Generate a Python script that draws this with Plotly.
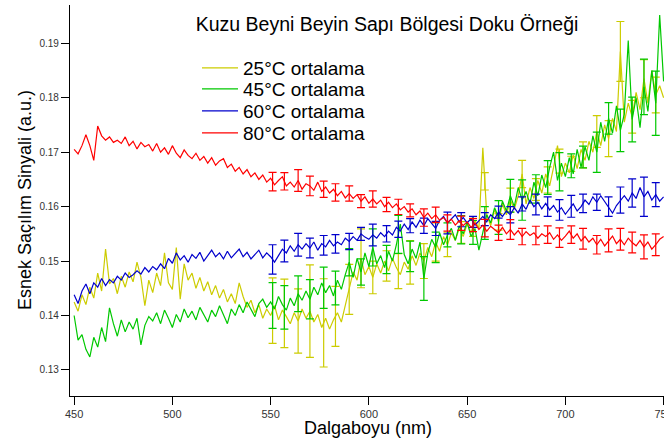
import numpy as np
import plotly.graph_objects as go

wavelengths = list(range(450, 751, 2))

yellow_25 = [
    0.1425, 0.1408, 0.1438, 0.1420, 0.1452, 0.1432, 0.1478, 0.1445, 0.1522, 0.1458,
    0.1468, 0.1440, 0.1472, 0.1452, 0.1480, 0.1462, 0.1498, 0.1470, 0.1418, 0.1465,
    0.1442, 0.1478, 0.1455, 0.1515, 0.1460, 0.1448, 0.1525, 0.1430, 0.1495, 0.1465,
    0.1478, 0.1450, 0.1470, 0.1445, 0.1462, 0.1438, 0.1455, 0.1432, 0.1448, 0.1425,
    0.1440, 0.1422, 0.1460, 0.1435, 0.1415, 0.1428, 0.1405, 0.1420, 0.1395, 0.1412,
    0.1400, 0.1418, 0.1392, 0.1410, 0.1398, 0.1385, 0.1405, 0.1390, 0.1412, 0.1395,
    0.1408, 0.1388, 0.1402, 0.1378, 0.1395, 0.1375, 0.1392, 0.1405, 0.1388, 0.1420,
    0.1448, 0.1480, 0.1465, 0.1505, 0.1475, 0.1490, 0.1470, 0.1495, 0.1478, 0.1500,
    0.1482, 0.1505, 0.1488, 0.1475, 0.1498, 0.1485, 0.1510, 0.1492, 0.1515, 0.1500,
    0.1525, 0.1508, 0.1535, 0.1518, 0.1545, 0.1530, 0.1552, 0.1538, 0.1560, 0.1545,
    0.1568, 0.1552, 0.1575, 0.1560, 0.1708, 0.1585, 0.1565, 0.1595, 0.1572, 0.1605,
    0.1585, 0.1612, 0.1595, 0.1620, 0.1660, 0.1605, 0.1635, 0.1615, 0.1648, 0.1625,
    0.1660, 0.1638, 0.1672, 0.1712, 0.1655, 0.1680, 0.1662, 0.1695, 0.1670, 0.1705,
    0.1685, 0.1720, 0.1700, 0.1738, 0.1712, 0.1750, 0.1725, 0.1762, 0.1738, 0.1885,
    0.1755, 0.1790, 0.1765, 0.1810, 0.1778, 0.1835, 0.1790, 0.1850, 0.1805, 0.1822,
    0.1800,
]

green_45 = [
    0.1400, 0.1355, 0.1365, 0.1338, 0.1324, 0.1360, 0.1342, 0.1378, 0.1352, 0.1414,
    0.1385, 0.1362, 0.1392, 0.1370, 0.1388, 0.1375, 0.1395, 0.1346, 0.1382, 0.1398,
    0.1390, 0.1405, 0.1385, 0.1410, 0.1395, 0.1378, 0.1402, 0.1388, 0.1412, 0.1396,
    0.1408, 0.1392, 0.1415, 0.1400, 0.1388, 0.1410, 0.1398, 0.1418, 0.1402, 0.1385,
    0.1412, 0.1400, 0.1420, 0.1405, 0.1425, 0.1410, 0.1398, 0.1422, 0.1430, 0.1415,
    0.1425, 0.1412, 0.1435, 0.1420, 0.1410, 0.1432, 0.1418, 0.1440, 0.1428, 0.1445,
    0.1430, 0.1452, 0.1438, 0.1460, 0.1442, 0.1455, 0.1436, 0.1465, 0.1448, 0.1475,
    0.1498, 0.1470, 0.1505, 0.1480, 0.1515, 0.1490, 0.1525, 0.1495, 0.1510, 0.1488,
    0.1518, 0.1500, 0.1530, 0.1568, 0.1512, 0.1495, 0.1522, 0.1505, 0.1535, 0.1468,
    0.1515, 0.1540, 0.1525, 0.1552, 0.1530, 0.1548, 0.1560, 0.1538, 0.1565, 0.1550,
    0.1572, 0.1545, 0.1560, 0.1520, 0.1555, 0.1585, 0.1570, 0.1598, 0.1580, 0.1610,
    0.1592, 0.1620, 0.1600, 0.1635, 0.1612, 0.1628, 0.1605, 0.1645, 0.1620, 0.1658,
    0.1635, 0.1672, 0.1700, 0.1648, 0.1680, 0.1655, 0.1690, 0.1660, 0.1705, 0.1672,
    0.1710, 0.1685, 0.1730, 0.1700, 0.1755, 0.1720, 0.1762, 0.1735, 0.1785, 0.1740,
    0.1770, 0.1905, 0.1760, 0.1800, 0.1745, 0.1820, 0.1775, 0.1850, 0.1790, 0.1952,
    0.1830,
]

blue_60 = [
    0.1438, 0.1422, 0.1445, 0.1458, 0.1440, 0.1460, 0.1452, 0.1468, 0.1455, 0.1466,
    0.1460, 0.1472, 0.1465, 0.1478, 0.1470, 0.1475, 0.1482, 0.1476, 0.1488, 0.1480,
    0.1490, 0.1484, 0.1495, 0.1486, 0.1505, 0.1496, 0.1515, 0.1502, 0.1510, 0.1498,
    0.1512, 0.1505, 0.1516, 0.1500, 0.1510, 0.1520, 0.1508, 0.1515, 0.1504, 0.1518,
    0.1506, 0.1514, 0.1522, 0.1508, 0.1516, 0.1504, 0.1512, 0.1520, 0.1506, 0.1515,
    0.1508, 0.1498, 0.1510, 0.1522, 0.1515, 0.1528, 0.1518, 0.1530, 0.1522, 0.1532,
    0.1524, 0.1535, 0.1520, 0.1532, 0.1526, 0.1538, 0.1528, 0.1535, 0.1530, 0.1542,
    0.1536, 0.1545, 0.1538, 0.1550, 0.1544, 0.1540, 0.1548, 0.1542, 0.1552, 0.1545,
    0.1555, 0.1548, 0.1562, 0.1555, 0.1568, 0.1558, 0.1572, 0.1562, 0.1575, 0.1565,
    0.1578, 0.1568, 0.1560, 0.1575, 0.1582, 0.1570, 0.1578, 0.1585, 0.1572, 0.1580,
    0.1570, 0.1578, 0.1566, 0.1575, 0.1582, 0.1572, 0.1585, 0.1578, 0.1590, 0.1582,
    0.1592, 0.1585, 0.1598, 0.1588, 0.1605, 0.1595, 0.1612, 0.1600, 0.1608, 0.1596,
    0.1606, 0.1594, 0.1602, 0.1590, 0.1598, 0.1586, 0.1596, 0.1605, 0.1592, 0.1600,
    0.1612, 0.1604, 0.1618, 0.1608, 0.1620, 0.1610, 0.1600, 0.1588, 0.1602, 0.1612,
    0.1620, 0.1610, 0.1625, 0.1615, 0.1635, 0.1618, 0.1628, 0.1612, 0.1622, 0.1610,
    0.1618,
]

red_80 = [
    0.1705, 0.1697, 0.1712, 0.1732, 0.1712, 0.1685, 0.1748, 0.1730, 0.1722, 0.1728,
    0.1718, 0.1722, 0.1716, 0.1728, 0.1712, 0.1720, 0.1706, 0.1718, 0.1710, 0.1714,
    0.1702, 0.1716, 0.1700, 0.1708, 0.1696, 0.1712, 0.1698, 0.1690, 0.1704, 0.1694,
    0.1688, 0.1698, 0.1685, 0.1692, 0.1680, 0.1690, 0.1676, 0.1684, 0.1688, 0.1672,
    0.1678, 0.1665, 0.1672, 0.1660, 0.1668, 0.1655, 0.1662, 0.1650, 0.1658, 0.1645,
    0.1652, 0.1640, 0.1648, 0.1655, 0.1638, 0.1645, 0.1636, 0.1648, 0.1632, 0.1642,
    0.1638, 0.1630, 0.1645, 0.1628, 0.1636, 0.1625, 0.1632, 0.1620, 0.1628, 0.1616,
    0.1624, 0.1615, 0.1622, 0.1610, 0.1618, 0.1606, 0.1614, 0.1605, 0.1612, 0.1600,
    0.1608, 0.1598, 0.1605, 0.1594, 0.1600, 0.1590, 0.1596, 0.1585, 0.1592, 0.1580,
    0.1588, 0.1578, 0.1585, 0.1575, 0.1580, 0.1570, 0.1577, 0.1566, 0.1574, 0.1565,
    0.1572, 0.1562, 0.1570, 0.1558, 0.1566, 0.1555, 0.1564, 0.1558, 0.1552, 0.1562,
    0.1550, 0.1558, 0.1548, 0.1556, 0.1545, 0.1554, 0.1547, 0.1552, 0.1542, 0.1550,
    0.1545, 0.1552, 0.1540, 0.1548, 0.1538, 0.1546, 0.1555, 0.1542, 0.1550, 0.1537,
    0.1545, 0.1535, 0.1542, 0.1530, 0.1540, 0.1528, 0.1538, 0.1546, 0.1532, 0.1540,
    0.1530, 0.1542, 0.1534, 0.1528, 0.1538, 0.1526, 0.1535, 0.1522, 0.1530, 0.1540,
    0.1545,
]

err_x = [551, 557, 564, 570, 577, 583, 590, 596, 602, 609, 615, 621, 628, 634, 640, 647,
         653, 659, 666, 672, 678, 685, 691, 697, 703, 709, 716, 722, 728, 734, 740, 746]

yellow_err = [0.0060, 0.0063, 0.0059, 0.0085, 0.0081, 0.0055, 0.0046, 0.0054, 0.0030, 0.0028,
              0.0032, 0.0040, 0.0032, 0.0035, 0.0022, 0.0020, 0.0018, 0.0016, 0.0015, 0.0022,
              0.0025, 0.0020, 0.0024, 0.0022, 0.0014, 0.0024, 0.0029, 0.0033, 0.0055, 0.0030,
              0.0035, 0.0033]
green_err = [0.0042, 0.0040, 0.0033, 0.0036, 0.0038, 0.0031, 0.0025, 0.0024, 0.0034, 0.0026,
             0.0035, 0.0028, 0.0040, 0.0028, 0.0022, 0.0026, 0.0022, 0.0030, 0.0031, 0.0030,
             0.0037, 0.0026, 0.0031, 0.0035, 0.0022, 0.0020, 0.0037, 0.0029, 0.0039, 0.0041,
             0.0051, 0.0059]
blue_err = [0.0027, 0.0020, 0.0021, 0.0018, 0.0018, 0.0017, 0.0015, 0.0012, 0.0020, 0.0015,
            0.0015, 0.0013, 0.0014, 0.0013, 0.0020, 0.0013, 0.0010, 0.0012, 0.0011, 0.0015,
            0.0013, 0.0019, 0.0018, 0.0019, 0.0020, 0.0017, 0.0015, 0.0018, 0.0024, 0.0026,
            0.0036, 0.0022]
red_err = [0.0017, 0.0016, 0.0020, 0.0018, 0.0015, 0.0016, 0.0014, 0.0012, 0.0015, 0.0013,
           0.0014, 0.0012, 0.0016, 0.0014, 0.0015, 0.0013, 0.0012, 0.0016, 0.0014, 0.0018,
           0.0015, 0.0017, 0.0016, 0.0018, 0.0016, 0.0019, 0.0017, 0.0021, 0.0020, 0.0019,
           0.0022, 0.0020]

series_names = ["25°C ortalama", "45°C ortalama", "60°C ortalama", "80°C ortalama"]
series_values = [yellow_25, green_45, blue_60, red_80]
series_errors = [yellow_err, green_err, blue_err, red_err]
colors = ["#cccc00", "#00c800", "#0000cc", "#ff0000"]

y_ticks = [0.13, 0.14, 0.15, 0.16, 0.17, 0.18, 0.19]
y_ticktext = ["0.13", "0.14", "0.15", "0.16", "0.17", "0.18", "0.19"]
x_ticks = [450, 500, 550, 600, 650, 700, 750]

W, H = 664, 443
ML, MT, MB = 70, 5, 47
PW, PH = W - ML, H - MT - MB
FONT = "Arial, Liberation Sans, sans-serif"


def px_x(px):
    return (px - ML) / PW


def px_y(py):
    return (H - MB - py) / PH


fig = go.Figure()
legend_rows_y = [68, 89, 111, 133]
for i, (name, vals, errs, col) in enumerate(zip(series_names, series_values, series_errors, colors)):
    lg = "legend" if i == 0 else f"legend{i+1}"
    fig.add_trace(go.Scatter(
        x=wavelengths, y=vals, mode="lines", name=name,
        line=dict(color=col, width=1.2), legend=lg,
    ))
    centers = np.interp(err_x, wavelengths, vals)
    fig.add_trace(go.Scatter(
        x=err_x, y=centers, mode="markers", showlegend=False,
        marker=dict(size=1, opacity=0, color=col),
        error_y=dict(type="data", array=errs, visible=True, color=col,
                     thickness=1.2, width=4),
        hoverinfo="skip",
    ))

legends = {}
for i, ry in enumerate(legend_rows_y):
    key = "legend" if i == 0 else f"legend{i+1}"
    legends[key] = dict(
        x=px_x(197), y=px_y(ry), xref="paper", yref="paper",
        xanchor="left", yanchor="middle",
        bgcolor="rgba(0,0,0,0)", borderwidth=0,
        font=dict(family=FONT, size=19, color="#000"),
        itemwidth=36, tracegroupgap=0,
    )

fig.update_layout(
    width=W, height=H,
    margin=dict(l=ML, r=0, t=MT, b=MB),
    paper_bgcolor="white", plot_bgcolor="white",
    font=dict(family=FONT),
    showlegend=True,
    title=dict(text="Kuzu Beyni Beyin Sapı Bölgesi Doku Örneği",
               x=387 / W, y=1 - 24 / H, xref="container", yref="container",
               xanchor="center", yanchor="middle",
               font=dict(family=FONT, size=19.5, color="#000")),
    **legends,
)

fig.update_xaxes(
    range=[447.9, 750.2], autorange=False,
    tickvals=x_ticks, ticks="outside", ticklen=8, tickwidth=1, tickcolor="#000",
    showline=True, linecolor="#000", linewidth=1.2,
    showgrid=False, zeroline=False, automargin=False,
    ticklabeloverflow="allow",
    tickfont=dict(family=FONT, size=11, color="#333"),
)
fig.update_yaxes(
    range=[0.12522, 0.19703], autorange=False,
    tickvals=y_ticks, ticktext=y_ticktext, ticks="outside", ticklen=8, tickwidth=1,
    tickcolor="#000",
    showline=True, linecolor="#000", linewidth=1.2,
    showgrid=False, zeroline=False, automargin=False,
    ticklabeloverflow="allow",
    tickfont=dict(family=FONT, size=10, color="#333"),
)

fig.add_annotation(text="Dalgaboyu (nm)", xref="paper", yref="paper",
                   x=px_x(368), y=px_y(428),
                   xanchor="center", yanchor="middle", showarrow=False,
                   font=dict(family=FONT, size=18, color="#000"))
fig.add_annotation(text="Esnek Saçılım Sinyali (a.u.)", xref="paper", yref="paper",
                   x=px_x(25), y=px_y(200), textangle=-90,
                   xanchor="center", yanchor="middle", showarrow=False,
                   font=dict(family=FONT, size=18, color="#000"))

fig.write_html("out.html")
